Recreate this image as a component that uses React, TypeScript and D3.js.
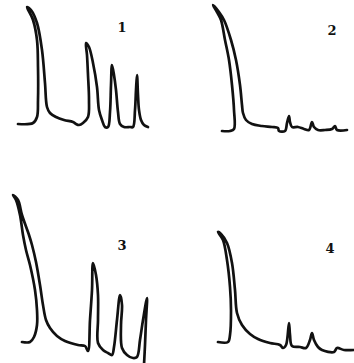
import React from "react";
import * as d3 from "d3";

// pen traces read from the plate: time (t) and signal above baseline (s)
const trace1: [number, number][] = [
  [6, 0], [21, 1], [25, 7], [26, 24], [26, 57], [25, 84], [21, 104], [15, 117],
  [19, 114], [25, 101], [30, 74], [33, 41], [35, 17], [38, 11], [44, 7], [52, 4],
  [61, 2], [64, 0], [67, -1], [71, 1], [76, 7], [77, 24], [76, 49], [75, 69], [74, 81],
  [77, 77], [81, 61], [85, 37], [87, 14], [90, 4], [93, -3], [96, -3], [98, 12], [99, 39],
  [100, 59], [102, 49], [104, 34], [106, 12], [108, 0], [112, -3], [118, -3], [121, -3],
  [123, 14], [124, 34], [125, 49], [126, 29], [127, 14], [129, 4], [132, -1], [136, -3],
];
const trace2: [number, number][] = [
  [12, 0], [20, 0], [24, 2], [24, 21], [22, 46], [19, 71], [15, 91], [11, 111], [7, 119],
  [3, 126], [9, 119], [14, 111], [21, 91], [26, 71], [30, 46], [32, 26], [33, 18], [36, 11],
  [42, 7], [52, 5], [62, 4], [68, 3], [69, 0], [75, 0], [77, 8], [79, 15], [80, 9],
  [82, 4], [88, 4], [94, 2], [99, 1], [102, 9], [104, 4], [108, 1], [115, 1], [122, 2],
  [125, 5], [127, 1], [137, 1],
];
const trace3: [number, number][] = [
  [12, 0], [20, 0], [24, 5], [27, 17], [27, 32], [25, 52], [20, 77], [16, 92], [13, 107],
  [10, 127], [6, 142], [3, 147], [8, 142], [12, 127], [19, 107], [22, 97], [26, 80],
  [30, 57], [33, 37], [36, 22], [40, 14], [47, 6], [55, 1], [68, -3], [75, -4], [78, -9],
  [80, 22], [82, 52], [83, 79], [86, 67], [88, 47], [88, 22], [88, -1], [93, -8], [98, -11],
  [102, -13], [104, -5], [107, 22], [110, 47], [112, 37], [111, 17], [112, -6], [117, -13],
  [123, -16], [127, -15], [130, 2], [133, 22], [137, 44], [136, 22], [135, -3], [134, -23],
];
const trace4: [number, number][] = [
  [8, 0], [18, 0], [20, 7], [21, 32], [20, 55], [17, 82], [13, 102], [8, 110],
  [11, 108], [17, 99], [22, 79], [25, 52], [27, 29], [32, 17], [40, 8], [48, 3],
  [60, -1], [70, -3], [73, -6], [76, -3], [79, 19], [80, 7], [82, -4], [90, -5], [96, -6],
  [100, 2], [102, 9], [104, 2], [108, -5], [112, -8], [124, -10], [127, -6], [134, -8],
  [144, -8],
];

const labels = ["1", "2", "3", "4"];
const traces = [trace1, trace2, trace3, trace4];

// panel placement on the page (left, baseline)
const panels = [
  { left: 12, base: 124, lx: 122, ly: 32 },
  { left: 210, base: 131, lx: 332, ly: 35 },
  { left: 10, base: 342, lx: 122, ly: 250 },
  { left: 210, base: 342, lx: 330, ly: 253 },
];

export default function App() {
  const W = 354, H = 363;
  return (
    <svg width={W} height={H} style={{ position: "absolute", left: 0, top: 0, background: "#fff" }}>
      {traces.map((tr, i) => {
        const p = panels[i];
        const x = d3.scaleLinear().domain([0, 150]).range([p.left, p.left + 150]);
        const y = d3.scaleLinear().domain([0, 150]).range([p.base, p.base - 150]);
        const line = d3
          .line<[number, number]>()
          .x((d) => x(d[0]))
          .y((d) => y(d[1]))
          .curve(d3.curveCatmullRom.alpha(0.5));
        return (
          <g key={i}>
            <path d={line(tr) || ""} fill="none" stroke="#111" strokeWidth={2.7}
              strokeLinejoin="round" strokeLinecap="round" />
            <text x={p.lx} y={p.ly} textAnchor="middle" fontFamily="'DejaVu Serif', serif"
              fontWeight="bold" fontSize={13} fill="#111">{labels[i]}</text>
          </g>
        );
      })}
    </svg>
  );
}
